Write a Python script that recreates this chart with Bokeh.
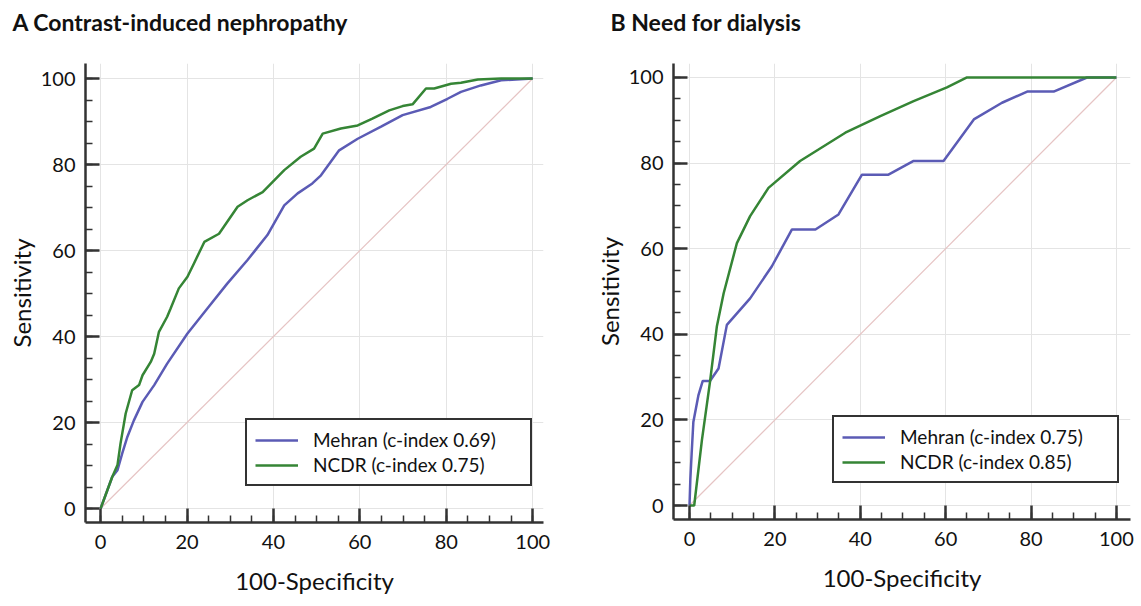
from bokeh.plotting import figure
from bokeh.layouts import row, column
from bokeh.models import FixedTicker, Legend, LegendItem, Range1d, Label
from bokeh.embed import file_html
from bokeh.resources import INLINE

# ROC curve points (100-Specificity, Sensitivity)
cin_mehran_x = [0, 2.7, 3.9, 5.0, 6.2, 7.7, 9.7, 12.4, 15.4, 20.1, 24.7, 29.3, 34.0, 38.6,
                42.5, 45.6, 49.0, 51.0, 55.2, 59.5, 64.9, 69.9, 76.4, 80.3, 83.4, 88.0, 92.7, 100]
cin_mehran_y = [0, 7.4, 8.9, 12.8, 16.7, 20.5, 24.8, 28.7, 33.7, 40.7, 46.5, 52.3, 57.8, 63.6,
                70.5, 73.3, 75.6, 77.5, 83.3, 86.0, 88.8, 91.5, 93.4, 95.3, 96.9, 98.4, 99.6, 100]
cin_ncdr_x = [0, 2.7, 3.9, 4.6, 5.8, 7.3, 8.9, 9.7, 11.6, 12.4, 13.5, 15.4, 16.2, 18.1, 20.1,
              21.6, 24.0, 27.4, 31.7, 34.0, 37.5, 42.5, 46.3, 49.4, 51.4, 55.6, 59.5, 62.9,
              66.8, 69.9, 72.2, 75.3, 77.2, 81.1, 83.4, 87.3, 92.7, 100]
cin_ncdr_y = [0, 7.4, 10.1, 15.1, 22.1, 27.5, 28.7, 31.0, 34.1, 36.0, 41.1, 44.6, 46.5, 51.2, 53.9,
              57.0, 62.0, 63.9, 70.2, 71.7, 73.6, 78.7, 81.8, 83.7, 87.2, 88.4, 89.1, 90.7,
              92.6, 93.6, 94.0, 97.7, 97.7, 98.8, 99.0, 99.8, 100, 100]

dial_mehran_x = [0, 0.2, 0.5, 0.9, 2.1, 3.1, 4.8, 6.8, 8.75, 14.2, 19.3, 24.0, 29.5, 34.9,
                 40.4, 46.6, 52.5, 59.5, 66.6, 73.2, 79.1, 85.3, 93.1, 100]
dial_mehran_y = [0, 6.3, 12.1, 19.5, 25.8, 29.1, 29.1, 32.0, 42.2, 48.4, 55.9, 64.5, 64.5, 68.0,
                 77.3, 77.3, 80.5, 80.5, 90.2, 94.1, 96.7, 96.7, 100, 100]
dial_ncdr_x = [0, 1.1, 2.9, 4.8, 6.4, 8.0, 11.1, 14.2, 18.5, 25.9, 36.5, 44.7, 52.5, 60.3, 65.0, 100]
dial_ncdr_y = [0, 0, 15.2, 28.9, 41.8, 49.6, 61.3, 67.6, 74.2, 80.5, 87.1, 91.0, 94.5, 97.7, 100, 100]

panel_titles = ["A Contrast-induced nephropathy", "B  Need for dialysis"]
cin_labels = ["Mehran (c-index 0.69)", "NCDR (c-index 0.75)"]
dial_labels = ["Mehran (c-index 0.75)", "NCDR (c-index 0.85)"]

major_ticks = [0, 20, 40, 60, 80, 100]
minor_ticks = list(range(0, 101, 5))

MEHRAN_COLOR = "#5b5bb5"
NCDR_COLOR = "#358535"
FONT = "Lato"
PAGE_W, HEAD_H = 1141, 63


def panel(mx, my, nx, ny, labels, xr, yr, fw, fh, bl, br, bb, legend_loc):
    p = figure(frame_width=fw, frame_height=fh, x_range=Range1d(*xr), y_range=Range1d(*yr),
               output_backend="svg", toolbar_location=None,
               min_border_left=bl, min_border_right=br, min_border_top=0, min_border_bottom=bb,
               background_fill_color="white", border_fill_color="white", outline_line_color=None)

    for ax in (p.xaxis[0], p.yaxis[0]):
        ax.ticker = FixedTicker(ticks=major_ticks, minor_ticks=minor_ticks)
        ax.axis_line_color = "#333333"
        ax.axis_line_width = 2.5
        ax.major_tick_line_color = "#333333"
        ax.major_tick_line_width = 2.5
        ax.minor_tick_line_color = "#333333"
        ax.minor_tick_line_width = 1.5
        ax.major_tick_in = 14
        ax.major_tick_out = 0
        ax.minor_tick_in = 7
        ax.minor_tick_out = 0
        ax.major_label_text_font = FONT
        ax.major_label_text_font_size = "20px"
        ax.major_label_text_color = "#111111"
        ax.axis_label_text_font = FONT
        ax.axis_label_text_font_size = "24px"
        ax.axis_label_text_font_style = "normal"
        ax.axis_label_text_color = "#111111"
    p.xaxis.axis_label = "100-Specificity"
    p.yaxis.axis_label = "Sensitivity"
    p.xaxis.major_label_standoff = 12
    p.yaxis.major_label_standoff = 10
    p.xaxis.axis_label_standoff = 14
    p.yaxis.axis_label_standoff = 2

    p.grid.ticker = FixedTicker(ticks=major_ticks)
    p.grid.grid_line_color = "#e4e4e4"
    p.grid.grid_line_width = 1

    p.line([0, 100], [0, 100], line_color="#e6c4c4", line_width=1.2)
    r_m = p.line(mx, my, line_color=MEHRAN_COLOR, line_width=2.5)
    r_n = p.line(nx, ny, line_color=NCDR_COLOR, line_width=2.5)

    legend = Legend(items=[LegendItem(label=labels[0], renderers=[r_m]),
                           LegendItem(label=labels[1], renderers=[r_n])],
                    location=legend_loc, orientation="vertical",
                    label_text_font=FONT, label_text_font_size="19px", label_text_color="#111111",
                    glyph_width=43, glyph_height=20, label_height=20, label_width=209,
                    label_standoff=15, padding=8, spacing=2, margin=0,
                    border_line_color="#333333", border_line_width=2, border_line_alpha=1.0,
                    background_fill_color="white", background_fill_alpha=1.0)
    p.add_layout(legend)
    return p


# heading strip: a bare canvas whose coordinates run in pixels, holding both panel headings
head = figure(frame_width=PAGE_W, frame_height=HEAD_H, x_range=Range1d(0, PAGE_W),
              y_range=Range1d(0, HEAD_H), output_backend="svg", toolbar_location=None,
              min_border=0, outline_line_color=None, background_fill_color="white",
              border_fill_color="white")
head.axis.visible = False
head.grid.visible = False
for title, tx in zip(panel_titles, [12, 610]):
    head.add_layout(Label(x=tx, y=42, text=title, text_font=FONT, text_font_style="bold",
                          text_font_size="23px", text_color="#111111",
                          text_align="left", text_baseline="alphabetic"))

pa = panel(cin_mehran_x, cin_mehran_y, cin_ncdr_x, cin_ncdr_y, cin_labels,
           (-3.5, 102.5), (-3.25, 103.5), 458, 459, 85, 27, 84, (160, 36))
pb = panel(dial_mehran_x, dial_mehran_y, dial_ncdr_x, dial_ncdr_y, dial_labels,
           (-3.75, 103.3), (-3.27, 103.27), 457, 456, 103, 11, 87, (159, 36))

layout = column(head, row(pa, pb))
open("out.html", "w").write(file_html(layout, INLINE))
